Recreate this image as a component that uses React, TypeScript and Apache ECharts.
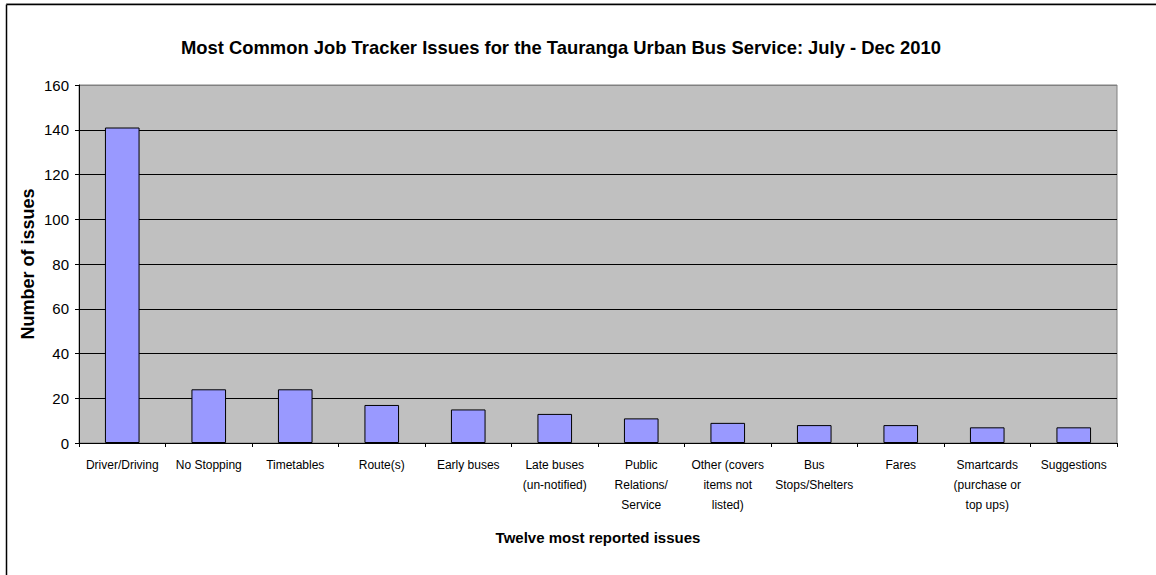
import React, { useEffect, useRef } from "react";
import * as echarts from "echarts";

const TITLE = "Most Common Job Tracker Issues for the Tauranga Urban Bus Service: July - Dec 2010";
const Y_NAME = "Number of issues";
const X_NAME = "Twelve most reported issues";

const categories = [
  "Driver/Driving",
  "No Stopping",
  "Timetables",
  "Route(s)",
  "Early buses",
  "Late buses\n(un-notified)",
  "Public\nRelations/\nService",
  "Other (covers\nitems not\nlisted)",
  "Bus\nStops/Shelters",
  "Fares",
  "Smartcards\n(purchase or\ntop ups)",
  "Suggestions",
];

const issueCounts = [141, 24, 24, 17, 15, 13, 11, 9, 8, 8, 7, 7];

const yMin = 0;
const yMax = 160;
const yInterval = 20;

const FONT = 'Arial, "Liberation Sans", sans-serif';

export default function App() {
  const ref = useRef<HTMLDivElement>(null);

  useEffect(() => {
    document.body.style.margin = "0";
    if (!ref.current) return;
    const chart = echarts.init(ref.current, null, { renderer: "svg" });
    chart.setOption({
      animation: false,
      backgroundColor: "#ffffff",
      textStyle: { fontFamily: FONT },
      title: {
        text: TITLE,
        left: 556,
        top: 33,
        textAlign: "center",
        textStyle: { fontFamily: FONT, fontSize: 18.4, fontWeight: "bold", color: "#000" },
      },
      grid: {
        left: 79,
        right: 39,
        top: 85,
        bottom: 132,
        show: true,
        backgroundColor: "#C0C0C0",
        borderColor: "#808080",
        borderWidth: 1,
      },
      xAxis: {
        type: "category",
        data: categories,
        name: X_NAME,
        nameLocation: "middle",
        nameGap: 87,
        nameMoveOverlap: false,
        nameTextStyle: { fontFamily: FONT, fontSize: 15, fontWeight: "bold", color: "#000" },
        axisLine: { show: true, lineStyle: { color: "#000", width: 1 } },
        axisTick: { show: true, alignWithLabel: false, length: 4, lineStyle: { color: "#000" } },
        axisLabel: {
          interval: 0,
          fontFamily: FONT,
          fontSize: 12,
          color: "#000",
          lineHeight: 20,
          margin: 12,
        },
      },
      yAxis: {
        type: "value",
        min: yMin,
        max: yMax,
        interval: yInterval,
        name: Y_NAME,
        nameLocation: "middle",
        nameRotate: 90,
        nameGap: 42,
        nameMoveOverlap: false,
        nameTextStyle: { fontFamily: FONT, fontSize: 18, fontWeight: "bold", color: "#000" },
        axisLine: { show: true, lineStyle: { color: "#000", width: 1 } },
        axisTick: { show: true, length: 4, lineStyle: { color: "#000" } },
        axisLabel: { fontFamily: FONT, fontSize: 15, color: "#000", margin: 10 },
        splitLine: {
          show: true,
          lineStyle: {
            color: ["#000", "#000", "#000", "#000", "#000", "#000", "#000", "#000", "#808080"],
            width: 1,
          },
        },
      },
      series: [
        {
          type: "bar",
          data: issueCounts,
          barCategoryGap: "60%",
          itemStyle: { color: "#9999FF", borderColor: "#000", borderWidth: 1 },
        },
      ],
      graphic: [
        { type: "line", shape: { x1: 6, y1: 3.5, x2: 1156, y2: 3.5 }, style: { stroke: "#BBBBBB", lineWidth: 1 } },
        { type: "line", shape: { x1: 6.5, y1: 4.5, x2: 1156, y2: 4.5 }, style: { stroke: "#000", lineWidth: 1.5 } },
        { type: "line", shape: { x1: 6.5, y1: 4.5, x2: 6.5, y2: 575 }, style: { stroke: "#000", lineWidth: 1.5 } },
      ],
    });
    return () => chart.dispose();
  }, []);

  return <div ref={ref} style={{ width: 1156, height: 575 }} />;
}
